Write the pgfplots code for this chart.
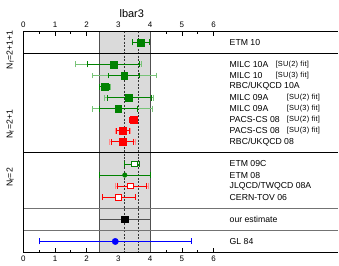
\documentclass[border=0pt]{standalone}
\usepackage{pgfplots}
\pgfplotsset{compat=1.18}
\usepackage{fontspec}
\setmainfont{Liberation Sans}
\definecolor{dgreen}{RGB}{0,130,0}
\definecolor{lgreen}{RGB}{120,195,120}
\definecolor{lred}{RGB}{255,140,140}
\definecolor{bandc}{RGB}{218,218,218}
\definecolor{edgec}{RGB}{80,80,80}
\pgfplotsset{
  eb/.style={draw=none, mark=none, forget plot,
    error bars/.cd, x dir=both, x explicit,
    error bar style={#1, line width=0.8pt},
    error mark options={#1, rotate=90, mark size=3pt, line width=0.8pt}},
}
\newcommand{\lab}[1]{\fontsize{8.7}{10}\selectfont #1}
\newcommand{\sm}[1]{\fontsize{7.4}{8}\selectfont\addfontfeature{LetterSpace=3}#1}
\begin{document}
\begin{tikzpicture}
\begin{axis}[name=ax, at={(0,0)}, anchor=south west, scale only axis,
  width=315.7pt, height=221.7pt,
  xmin=0, xmax=9.93, ymin=0, ymax=20, y dir=reverse,
  axis line style={draw=none}, ytick=\empty,
  xtick={0,...,6}, minor xtick={0.5,1.5,...,5.5},
  xtick pos=both, xticklabel pos=lower, tick align=inside,
  major tick length=5pt, minor tick length=2.5pt,
  tick style={black, line width=0.8pt},
  xticklabel style={font=\fontsize{8}{9}\selectfont},
  /pgf/number format/assume math mode=true,
  clip=false]
% band
\fill[bandc] (axis cs:2.4,0) rectangle (axis cs:4.0,20);
\draw[edgec, line width=0.9pt] (axis cs:2.4,0) -- (axis cs:2.4,20);
\draw[edgec, line width=0.9pt] (axis cs:4.0,0) -- (axis cs:4.0,20);
\draw[black!80, line width=0.8pt, dash pattern=on 2pt off 1.5pt] (axis cs:3.2,0) -- (axis cs:3.2,20);
\draw[black!80, line width=0.8pt, dash pattern=on 2pt off 1.5pt] (axis cs:3.63,0) -- (axis cs:3.63,20);
% separators
\draw[black, line width=0.9pt] (axis cs:0,2) -- (axis cs:9.93,2);
\draw[black, line width=0.9pt] (axis cs:0,11) -- (axis cs:9.93,11);
\draw[black!55, line width=1.3pt] (axis cs:0,16) -- (axis cs:9.93,16);
\draw[black!55, line width=1.3pt] (axis cs:0,18) -- (axis cs:9.93,18);
% frame
\draw[black, line width=0.9pt] (axis cs:0,0) -- (axis cs:9.93,0);
\draw[black, line width=0.9pt] (axis cs:0,20) -- (axis cs:9.93,20);
\draw[black, line width=0.9pt] (axis cs:0,0) -- (axis cs:0,20);
% outer (light) error bars
\addplot[eb=lgreen] coordinates {(3.70,1) -= (0.27,0) += (0.27,0)
 (2.85,3) -= (1.22,0) += (0.88,0)
 (3.18,4) -= (1.01,0) += (1.01,0)
 (2.57,5) -= (0.17,0) += (0.17,0)
 (3.32,6) -= (0.77,0) += (0.79,0)
 (2.99,7) -= (0.81,0) += (1.09,0)};
\addplot[eb=lred] coordinates {(3.47,8) -= (0.11,0) += (0.11,0)
 (3.13,9) -= (0.23,0) += (0.25,0)
 (3.13,10) -= (0.40,0) += (0.41,0)
 (3.38,14) -= (0.48,0) += (0.56,0)};
% inner error bars
\addplot[eb=dgreen] coordinates {(3.70,1) -= (0.26,0) += (0.26,0)
 (2.85,3) -= (0.82,0) += (0.81,0)
 (3.18,4) -= (0.50,0) += (0.49,0)
 (2.57,5) -= (0.16,0) += (0.16,0)
 (3.32,6) -= (0.68,0) += (0.71,0)
 (2.99,7) -= (0.59,0) += (0.61,0)
 (3.50,12) -= (0.30,0) += (0.15,0)
 (3.20,13) -= (0.80,0) += (0.80,0)};
\addplot[eb=red] coordinates {(3.47,8) -= (0.11,0) += (0.11,0)
 (3.13,9) -= (0.21,0) += (0.23,0)
 (3.13,10) -= (0.34,0) += (0.35,0)
 (3.38,14) -= (0.42,0) += (0.50,0)
 (3.00,15) -= (0.50,0) += (0.52,0)};
\addplot[eb=edgec] coordinates {(3.2,17) -= (0.8,0) += (0.8,0)};
\addplot[eb=blue] coordinates {(2.9,19) -= (2.4,0) += (2.4,0)};
% markers
\addplot[only marks, mark=square*, mark size=3.4pt, color=dgreen] coordinates {(3.70,1) (2.85,3) (3.18,4) (2.57,5) (3.32,6) (2.99,7)};
\addplot[only marks, mark=square*, mark size=3.4pt, color=red] coordinates {(3.47,8) (3.13,9) (3.13,10)};
\addplot[only marks, mark=square*, mark size=2.8pt, draw=dgreen, fill=white, line width=0.9pt] coordinates {(3.50,12)};
\addplot[only marks, mark=*, mark size=2.3pt, color=dgreen] coordinates {(3.20,13)};
\addplot[only marks, mark=square*, mark size=2.8pt, draw=red, fill=white, line width=0.9pt] coordinates {(3.38,14) (3.00,15)};
\addplot[only marks, mark=square*, mark size=3.2pt, color=black] coordinates {(3.2,17)};
\addplot[only marks, mark=*, mark size=3.2pt, color=blue] coordinates {(2.9,19)};
% top tick labels
\pgfplotsinvokeforeach{0,...,6}{\node[anchor=base, font=\fontsize{8}{9}\selectfont] at ([yshift=3.5pt]axis cs:#1,0) {#1};}
% title
\node[font=\fontsize{11}{13}\selectfont] at ([yshift=18pt]axis cs:3.42,0) {lbar3};
% group labels
\node[rotate=90, font=\fontsize{8.7}{10}\selectfont] at ([xshift=-13pt]axis cs:0,1.7) {N\textsubscript{f}=2+1+1};
\node[rotate=90, font=\fontsize{8.7}{10}\selectfont] at ([xshift=-13pt]axis cs:0,8.4) {N\textsubscript{f}=2+1};
\node[rotate=90, font=\fontsize{8.7}{10}\selectfont] at ([xshift=-13pt]axis cs:0,13.2) {N\textsubscript{f}=2};
% row labels
\node[anchor=west, inner sep=0pt] at (axis cs:6.5,1) {\lab{ETM 10}};
\node[anchor=west, inner sep=0pt] at (axis cs:6.5,3) {\lab{MILC 10A}};
\node[anchor=west, inner sep=0pt] at (axis cs:6.5,4) {\lab{MILC 10}};
\node[anchor=west, inner sep=0pt] at (axis cs:6.5,5) {\lab{RBC/UKQCD 10A}};
\node[anchor=west, inner sep=0pt] at (axis cs:6.5,6) {\lab{MILC 09A}};
\node[anchor=west, inner sep=0pt] at (axis cs:6.5,7) {\lab{MILC 09A}};
\node[anchor=west, inner sep=0pt] at (axis cs:6.5,8) {\lab{PACS-CS 08}};
\node[anchor=west, inner sep=0pt] at (axis cs:6.5,9) {\lab{PACS-CS 08}};
\node[anchor=west, inner sep=0pt] at (axis cs:6.5,10) {\lab{RBC/UKQCD 08}};
\node[anchor=west, inner sep=0pt] at (axis cs:7.95,3) {\sm{[SU(2) fit]}};
\node[anchor=west, inner sep=0pt] at (axis cs:7.95,4) {\sm{[SU(3) fit]}};
\node[anchor=west, inner sep=0pt] at (axis cs:8.3,6) {\sm{[SU(2) fit]}};
\node[anchor=west, inner sep=0pt] at (axis cs:8.3,7) {\sm{[SU(3) fit]}};
\node[anchor=west, inner sep=0pt] at (axis cs:8.3,8) {\sm{[SU(2) fit]}};
\node[anchor=west, inner sep=0pt] at (axis cs:8.3,9) {\sm{[SU(3) fit]}};
\node[anchor=west, inner sep=0pt] at (axis cs:6.5,12) {\lab{ETM 09C}};
\node[anchor=west, inner sep=0pt] at (axis cs:6.5,13) {\lab{ETM 08}};
\node[anchor=west, inner sep=0pt] at (axis cs:6.5,14) {\lab{JLQCD/TWQCD 08A}};
\node[anchor=west, inner sep=0pt] at (axis cs:6.5,15) {\lab{CERN-TOV 06}};
\node[anchor=west, inner sep=0pt] at (axis cs:6.5,17) {\lab{our estimate}};
\node[anchor=west, inner sep=0pt] at (axis cs:6.5,19) {\lab{GL 84}};
\end{axis}
\path[use as bounding box] ([shift={(-23.3pt,-9pt)}]ax.south west) rectangle ([shift={(0pt,31.3pt)}]ax.north east);
\end{tikzpicture}
\end{document}
